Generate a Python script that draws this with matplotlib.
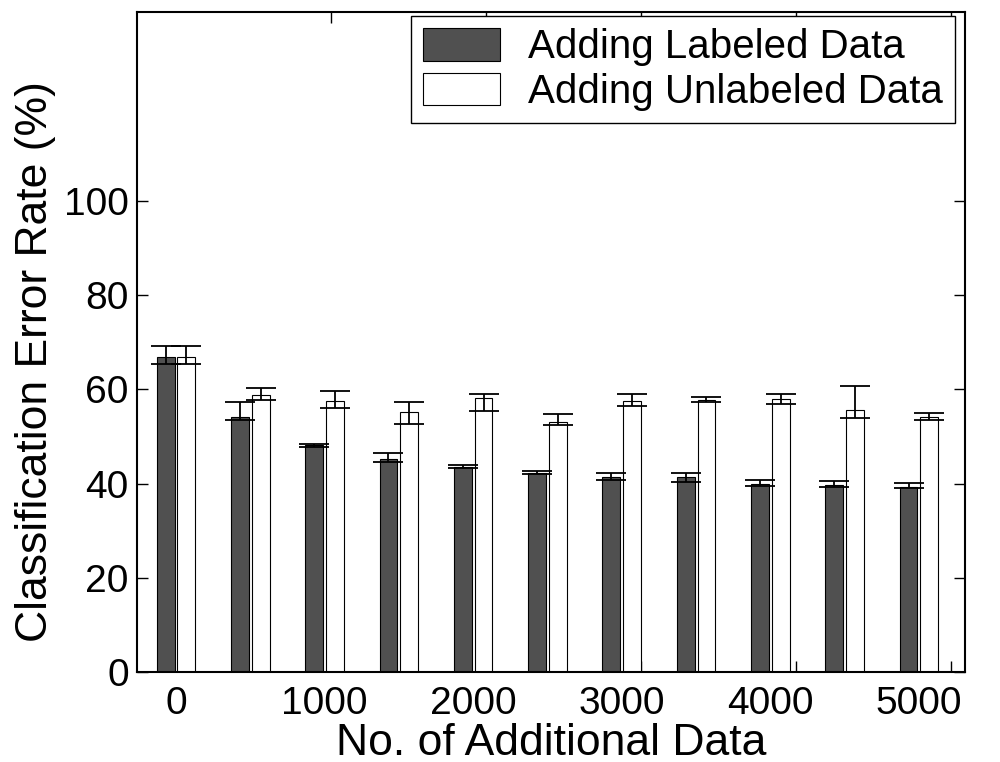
import numpy as np
import matplotlib.pyplot as plt

plt.rcParams['font.family'] = ['Liberation Sans', 'DejaVu Sans']

# Data
tick_labels = ['0', '1000', '2000', '3000', '4000', '5000']
labeled_mean = [66.8, 54.1, 48.1, 45.3, 43.6, 42.3, 41.3, 41.4, 40.0, 39.7, 39.3]
labeled_lo = [65.4, 53.5, 47.7, 44.5, 43.4, 42.1, 40.7, 40.4, 39.5, 39.3, 39.0]
labeled_hi = [69.1, 57.3, 48.4, 46.4, 44.0, 42.7, 42.2, 42.2, 40.7, 40.5, 40.1]
unlabeled_mean = [66.8, 58.8, 57.5, 55.1, 58.1, 53.0, 57.5, 57.8, 58.0, 55.6, 54.2]
unlabeled_lo = [65.4, 57.8, 56.1, 52.6, 55.3, 52.5, 56.5, 57.2, 56.8, 53.9, 53.5]
unlabeled_hi = [69.1, 60.3, 59.6, 57.3, 59.1, 54.8, 59.0, 58.3, 59.1, 60.7, 54.9]

n = len(labeled_mean)
x = np.arange(1, n + 1)
w = 0.24
off = 0.14

lab = np.array(labeled_mean)
unl = np.array(unlabeled_mean)
lab_err = [lab - np.array(labeled_lo), np.array(labeled_hi) - lab]
unl_err = [unl - np.array(unlabeled_lo), np.array(unlabeled_hi) - unl]

fig = plt.figure(figsize=(10, 7.62), dpi=100)
ax = fig.add_axes([0.137, 0.118, 0.828, 0.866])

ax.bar(x - off, lab, w, color='#505050', edgecolor='black', linewidth=0.8,
       label='Adding Labeled Data', zorder=2)
ax.bar(x + off, unl, w, color='white', edgecolor='black', linewidth=0.8,
       label='Adding Unlabeled Data', zorder=2)
ax.errorbar(x - off, lab, yerr=lab_err, fmt='none', ecolor='black',
            elinewidth=1.3, capsize=11, capthick=1.3, zorder=3)
ax.errorbar(x + off, unl, yerr=unl_err, fmt='none', ecolor='black',
            elinewidth=1.3, capsize=11, capthick=1.3, zorder=3)

ax.set_xlim(0.475, 11.62)
ax.set_ylim(0, 140)
ax.set_yticks([0, 20, 40, 60, 80, 100])

# labels sit on every other group, tick marks on a slightly wider spacing
ax.set_xticks(x[::2])
ax.set_xticklabels(tick_labels)
ax.set_xticks(1 + 2.086 * np.arange(6), minor=True)
ax.tick_params(axis='x', which='major', length=0, pad=10, labelsize=28)
ax.tick_params(axis='x', which='minor', direction='in', length=8, width=1,
               top=True, bottom=True)
ax.tick_params(axis='y', direction='in', length=8, width=1, right=True,
               labelsize=28, pad=6)

for s in ax.spines.values():
    s.set_linewidth(1.5)

ax.set_xlabel('No. of Additional Data', fontsize=32)
ax.set_ylabel('Classification Error Rate (%)', fontsize=32)
ax.xaxis.label.set_va('center')
ax.yaxis.label.set_va('center')
ax.xaxis.set_label_coords(0.5, -0.108)
ax.yaxis.set_label_coords(-0.122, 0.471)

leg = ax.legend(loc='upper right', bbox_to_anchor=(0.988, 0.994),
                borderaxespad=0, fontsize=29, frameon=True, fancybox=False,
                edgecolor='black', framealpha=1,
                handlelength=1.9, handleheight=0.87, handletextpad=0.7,
                labelspacing=0.15, borderpad=0.3)
leg.get_frame().set_linewidth(1.0)

fig.savefig('out.png', dpi=100)
